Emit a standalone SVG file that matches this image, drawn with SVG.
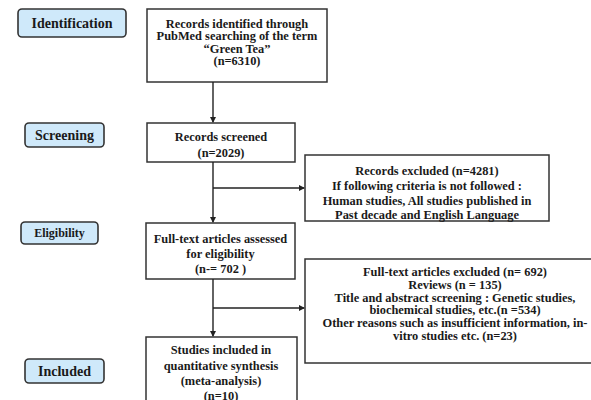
<svg xmlns="http://www.w3.org/2000/svg" width="591" height="400" viewBox="0 0 591 400">
<defs>
<marker id="ah" markerWidth="6" markerHeight="6" refX="5" refY="3" orient="auto" markerUnits="userSpaceOnUse">
<path d="M0,0 L6,3 L0,6 Z" fill="#222"/>
</marker>
<style>
.box{fill:#fff;stroke:#333;stroke-width:1.5}
.lab{fill:#cfe9fa;stroke:#333;stroke-width:1.6}
text{font-family:"Liberation Serif","Times New Roman",serif;font-weight:bold;fill:#1a1a1a;text-anchor:middle}
.t{font-size:12.4px}
.s{font-size:12px}
.l{font-size:14px}
.conn{stroke:#222;stroke-width:1.4;fill:none}
</style>
</defs>
<rect width="591" height="400" fill="#fff"/>
<g id="label-identification"><rect class="lab" x="18" y="9" width="108" height="28" rx="4"/><text class="l" x="72" y="28">Identification</text></g>
<g id="label-screening"><rect class="lab" x="25" y="123" width="79" height="24" rx="4"/><text class="l" x="64.5" y="140">Screening</text></g>
<g id="label-eligibility"><rect class="lab" x="21" y="222" width="77" height="22" rx="4"/><text class="s" x="59.5" y="237">Eligibility</text></g>
<g id="label-included"><rect class="lab" x="25" y="359" width="79" height="24" rx="4"/><text class="l" x="64.5" y="376">Included</text></g>

<g id="identified"><rect class="box" x="147" y="9" width="180" height="73"/>
<text class="t" x="237" y="27.5">Records identified through</text>
<text class="t" x="237" y="40">PubMed searching of the term</text>
<text class="t" x="237" y="52.5">“Green Tea”</text>
<text class="t" x="237" y="65">(n=6310)</text></g>

<g id="screened"><rect class="box" x="147" y="123" width="148" height="39"/>
<text class="t" x="221" y="141">Records screened</text>
<text class="t" x="221" y="157">(n=2029)</text></g>

<g id="excluded1"><rect class="box" x="305" y="155" width="244" height="66"/>
<text class="t" x="427" y="175">Records excluded (n=4281)</text>
<text class="t" x="427" y="190">If following criteria is not followed :</text>
<text class="t" x="427" y="205">Human studies, All studies published in</text>
<text class="t" x="427" y="219">Past decade  and English Language</text></g>

<g id="assessed"><rect class="box" x="146" y="223" width="149" height="56"/>
<text class="t" x="220.5" y="242.5">Full-text articles assessed</text>
<text class="t" x="220.5" y="258">for eligibility</text>
<text class="t" x="220.5" y="272.5">(n-= 702 )</text></g>

<g id="excluded2"><rect class="box" x="305" y="259" width="290" height="104"/>
<text class="t" x="455" y="276">Full-text articles excluded (n= 692)</text>
<text class="t" x="455" y="289">Reviews (n = 135)</text>
<text class="t" x="455" y="301.5">Title and abstract screening : Genetic studies,</text>
<text class="t" x="455" y="314">biochemical studies, etc.(n =534)</text>
<text class="t" x="455" y="327">Other reasons such as insufficient information, in-</text>
<text class="t" x="455" y="339.5">vitro studies etc.  (n=23)</text></g>

<g id="included"><rect class="box" x="146" y="337" width="151" height="80"/>
<text class="t" x="221" y="354">Studies included in</text>
<text class="t" x="221" y="370">quantitative synthesis</text>
<text class="t" x="221" y="385">(meta-analysis)</text>
<text class="t" x="221" y="400">(n=10)</text></g>

<g id="connectors">
<line class="conn" x1="213" y1="82" x2="213" y2="122" marker-end="url(#ah)"/>
<line class="conn" x1="213" y1="162" x2="213" y2="222" marker-end="url(#ah)"/>
<line class="conn" x1="213" y1="188" x2="304" y2="188" marker-end="url(#ah)"/>
<line class="conn" x1="213" y1="279" x2="213" y2="336" marker-end="url(#ah)"/>
<line class="conn" x1="213" y1="308" x2="304" y2="308" marker-end="url(#ah)"/>
</g>
</svg>
